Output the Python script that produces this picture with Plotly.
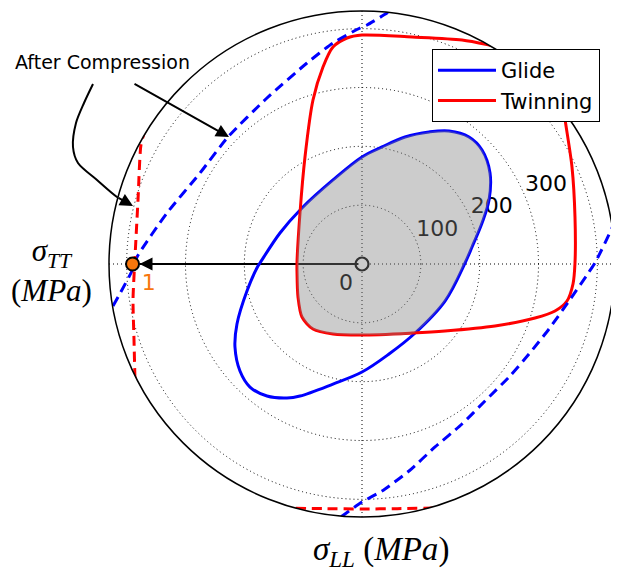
import numpy as np
import plotly.graph_objects as go

# ---------------- data (MPa; sigma_LL horizontal, sigma_TT vertical) ----------------
glide_x = [0, 34.0, 73.1, 113.9, 147.9, 181.9, 204.0, 217.6, 215.9, 204.0, 187.0, 175.1,
           141.1, 88.4, 45.9, 0, -49.3, -105.4, -127.5, -161.5, -190.4, -207.4, -215.9,
           -212.5, -195.5, -176.8, -173.4, -139.4, -102.0, -49.3, 0]
glide_y = [181.9, 198.9, 215.9, 224.4, 226.1, 215.9, 193.8, 154.7, 108.8, 69.7, 28.9, 1.7,
           -62.9, -119.0, -153.0, -183.6, -204.0, -224.4, -227.8, -224.4, -209.1, -181.9,
           -141.1, -102.0, -45.9, -3.4, 1.7, 52.7, 95.2, 142.8, 181.9]

twin_x = [0, 85.0, 170.0, 215.9, 268.5, 309.0, 330.0, 340.0, 345.0, 356.9, 362.0, 362.0,
          358.6, 348.4, 328.0, 294.0, 226.0, 141.1, 85.0, 0, -49.3, -83.3, -102.0, -108.8,
          -110.5, -110.5, -105.4, -96.9, -83.3, -66.3, -49.3, -25.5, 0]
twin_y = [389.2, 385.8, 380.7, 372.2, 360.0, 345.0, 323.0, 285.0, 246.4, 164.9, 79.9, 1.7,
          -34.0, -62.9, -79.9, -91.8, -105.4, -113.9, -117.3, -120.7, -119.0, -110.5, -90.1,
          -56.1, -11.9, 1.7, 86.7, 181.9, 278.7, 334.8, 368.8, 384.1, 389.2]

# combined (intersection) yield surface, shaded
comb_x = [-102.0, -49.3, 0, 34.0, 73.1, 113.9, 147.9, 181.9, 204.0, 217.6, 215.9, 204.0,
          187.0, 175.1, 141.1, 88.4, 0, -49.3, -83.3, -102.0, -108.8, -110.5, -110.5, -105.4, -102.0]
comb_y = [95.2, 142.8, 181.9, 198.9, 215.9, 224.4, 226.1, 215.9, 193.8, 154.7, 108.8, 69.7,
          28.9, 1.7, -62.9, -117.3, -120.7, -119.0, -110.5, -90.1, -56.1, -11.9, 1.7, 86.7, 95.2]

# after compression (dashed)
glide2a_x = [-423.2, -391.0, -382.4, -331.4, -275.3, -227.8, -161.5, -93.5, -49.3, -3.4, 8.5, 42.5, 50.0]
glide2a_y = [-71.4, -11.9, 11.9, 86.7, 154.7, 215.9, 282.1, 341.6, 375.6, 401.1, 406.2, 426.6, 432.0]
glide2b_x = [430.0, 424.9, 396.0, 385.8, 351.8, 317.8, 283.8, 249.8, 209.0, 170.0, 124.1, 79.9, 34.0, 0, -28.9, -36.0]
glide2b_y = [75.0, 61.2, 1.7, -13.6, -62.9, -110.5, -153.0, -192.1, -232.9, -271.9, -311.0, -351.8, -385.8, -404.5, -424.9, -430.0]
twin2a_x = [-368.0, -375.7, -380.7, -385.8, -389.2, -387.5, -385.8, -385.0]
twin2a_y = [230.0, 202.3, 108.8, 11.9, -61.2, -129.2, -197.2, -215.0]
twin2b_x = [-140.0, -60.0, 0, 60.0, 125.0]
twin2b_y = [-414.7, -415.8, -416.4, -415.8, -414.7]

# points
pt0_r, pt0_theta, pt0_label = 0, 0, "0"
pt1_r, pt1_theta, pt1_label = 390, 180, "1"

# radial grid / tick labels
r_grid = [100, 200, 300, 400]
r_labels_val = [100, 200, 300]
r_labels_txt = ["100", "200", "300"]
RMAX = 430

# annotation paths (MPa)
curve_x = [-457.2, -472.5, -486.1, -491.2, -482.7, -450.4, -416.4, -389.2]
curve_y = [305.9, 273.6, 239.6, 198.9, 171.7, 142.8, 113.9, 98.6]
straight_tail = (-389.2, 307.6)
straight_tip = (-226.0, 215.9)

# ---------------- geometry ----------------
OFF = 8                      # page body margin
W, H = 611, 564
CX, CY, RPX = 362 - OFF, 264 - OFF, 253
scale = RPX / RMAX


def px(sx):
    return (sx - OFF) / W


def py(sy):
    return 1 - (sy - OFF) / H


def to_polar(x, y):
    x = np.asarray(x, float)
    y = np.asarray(y, float)
    return np.hypot(x, y), np.degrees(np.arctan2(y, x))


BLUE = "#0000ff"
RED = "#ff0000"
ORANGE = "#f7760c"
FONT = "DejaVu Sans"
SERIF = "Liberation Serif"

fig = go.Figure()

# radial tick labels (under the shaded area)
fig.add_trace(go.Scatterpolar(r=r_labels_val, theta=[22.5] * 3, mode="text",
                              text=r_labels_txt, textposition="top right",
                              textfont=dict(size=22, color="black", family=FONT),
                              showlegend=False, hoverinfo="skip"))
# origin point
fig.add_trace(go.Scatterpolar(r=[pt0_r], theta=[pt0_theta], mode="markers+text",
                              text=[pt0_label], textposition="bottom left",
                              textfont=dict(size=22, color="black", family=FONT),
                              marker=dict(size=13, color="white", line=dict(color="black", width=2.2)),
                              showlegend=False, hoverinfo="skip"))
# arrow shaft
fig.add_trace(go.Scatterpolar(r=[pt0_r + 6, pt1_r - 12], theta=[pt1_theta, pt1_theta], mode="lines",
                              line=dict(color="black", width=2), showlegend=False, hoverinfo="skip"))

r, t = to_polar(glide_x, glide_y)
fig.add_trace(go.Scatterpolar(r=r, theta=t, mode="lines", name="Glide",
                              line=dict(color=BLUE, width=3, shape="spline", smoothing=1.0)))
r, t = to_polar(twin_x, twin_y)
fig.add_trace(go.Scatterpolar(r=r, theta=t, mode="lines", name="Twinning",
                              line=dict(color=RED, width=3, shape="spline", smoothing=0.8)))

for xs, ys, col in [(glide2a_x, glide2a_y, BLUE), (glide2b_x, glide2b_y, BLUE),
                    (twin2a_x, twin2a_y, RED), (twin2b_x, twin2b_y, RED)]:
    r, t = to_polar(xs, ys)
    fig.add_trace(go.Scatterpolar(r=r, theta=t, mode="lines", showlegend=False,
                                  line=dict(color=col, width=3, dash="10px,6px", shape="spline", smoothing=0.6),
                                  hoverinfo="skip"))

r, t = to_polar(comb_x, comb_y)
fig.add_trace(go.Scatterpolar(r=r, theta=t, mode="lines", fill="toself",
                              fillcolor="rgba(128,128,128,0.4)", line=dict(width=0, shape="spline", smoothing=0.6),
                              showlegend=False, hoverinfo="skip"))

# point 1
fig.add_trace(go.Scatterpolar(r=[pt1_r], theta=[pt1_theta], mode="markers+text",
                              text=[pt1_label], textposition="bottom right",
                              textfont=dict(size=22, color=ORANGE, family=FONT),
                              marker=dict(size=13, color=ORANGE, line=dict(color="black", width=2)),
                              showlegend=False, hoverinfo="skip"))

# curved arrow shaft on cartesian overlay
fig.add_trace(go.Scatter(x=curve_x, y=curve_y, mode="lines",
                         line=dict(color="black", width=2, shape="spline", smoothing=0.8),
                         showlegend=False, hoverinfo="skip", xaxis="x", yaxis="y"))

fig.update_layout(
    width=W, height=H,
    margin=dict(l=0, r=0, t=0, b=0),
    paper_bgcolor="white", plot_bgcolor="rgba(0,0,0,0)",
    font=dict(family=FONT, color="black"),
    polar=dict(
        domain=dict(x=[(CX - RPX) / W, (CX + RPX) / W], y=[(H - CY - RPX) / H, (H - CY + RPX) / H]),
        bgcolor="white",
        radialaxis=dict(range=[0, RMAX], tickvals=r_grid, showticklabels=False, ticks="",
                        showline=False, gridcolor="black", gridwidth=1, griddash="1px,3px",
                        layer="below traces"),
        angularaxis=dict(tickvals=[0, 90, 180, 270], showticklabels=False, ticks="",
                         showline=True, linecolor="black", linewidth=1.5,
                         gridcolor="black", gridwidth=1, griddash="1px,3px",
                         layer="above traces"),
    ),
    xaxis=dict(domain=[0, 1], range=[-CX / scale, (W - CX) / scale], visible=False, fixedrange=True),
    yaxis=dict(domain=[0, 1], range=[-(H - CY) / scale, CY / scale], visible=False, fixedrange=True),
    legend=dict(x=px(432), y=py(49), xanchor="left", yanchor="top",
                bgcolor="white", bordercolor="black", borderwidth=1,
                font=dict(size=21, family=FONT, color="black"), itemwidth=58,
                tracegroupgap=0),
    showlegend=True,
)

annotations = [
    # arrowhead of main arrow (shaft drawn as a trace)
    dict(x=-pt1_r, y=0, ax=-pt1_r + 40, ay=0, xref="x", yref="y", axref="x", ayref="y",
         showarrow=True, arrowhead=2, arrowsize=1.3, arrowwidth=2, arrowcolor="black",
         standoff=7, text=""),
    dict(x=straight_tip[0], y=straight_tip[1], ax=straight_tail[0], ay=straight_tail[1],
         xref="x", yref="y", axref="x", ayref="y", showarrow=True, arrowhead=2,
         arrowsize=1.3, arrowwidth=2, arrowcolor="black", text=""),
    dict(x=curve_x[-1], y=curve_y[-1], ax=curve_x[-2], ay=curve_y[-2],
         xref="x", yref="y", axref="x", ayref="y", showarrow=True, arrowhead=2,
         arrowsize=1.3, arrowwidth=2, arrowcolor="black", text=""),
    dict(text="After Compression", x=px(102), y=py(62), xref="paper", yref="paper",
         xanchor="center", yanchor="middle", showarrow=False,
         font=dict(size=19, family=FONT, color="black")),
    dict(text="<i>σ</i><sub><i>LL</i></sub> (<i>MPa</i>)", x=px(381), y=py(551),
         xref="paper", yref="paper", xanchor="center", yanchor="middle", showarrow=False,
         font=dict(size=33, family=SERIF, color="black")),
    dict(text="<i>σ</i><sub><i>TT</i></sub><br>(<i>MPa</i>)", x=px(51), y=py(270),
         xref="paper", yref="paper", xanchor="center", yanchor="middle", showarrow=False,
         align="center", font=dict(size=31, family=SERIF, color="black")),
]
fig.update_layout(annotations=annotations)

fig.write_html("out.html")
